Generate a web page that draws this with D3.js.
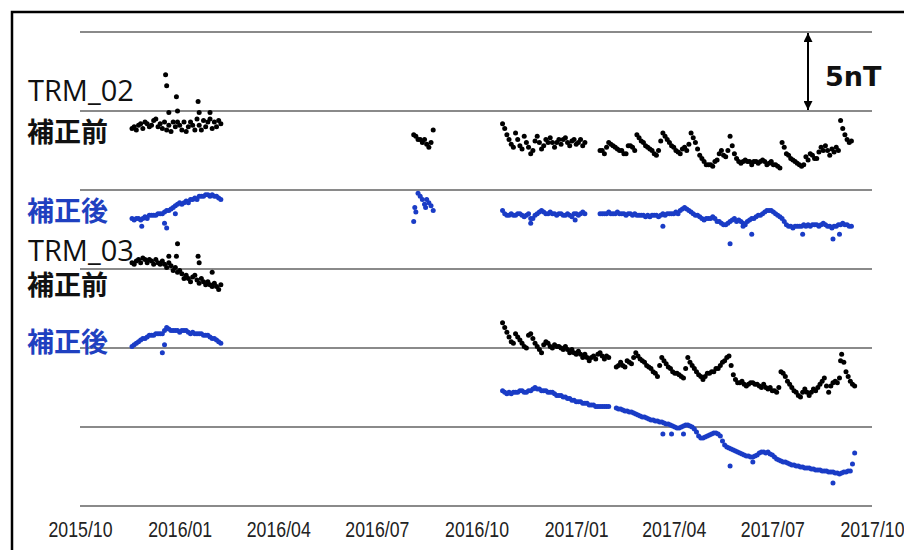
<!DOCTYPE html>
<html>
<head>
<meta charset="utf-8">
<script src="https://cdn.jsdelivr.net/npm/d3@7"></script>
<style>
  body { margin: 0; background: #fff; }
  svg { display: block; }
</style>
</head>
<body>
<svg id="chart" width="904" height="550"></svg>
<script>
// --- data (nT on a shared axis, series stacked with offsets; one value every 2 days) ---
const tickLabels = ["2015/10", "2016/01", "2016/04", "2016/07", "2016/10", "2017/01", "2017/04", "2017/07", "2017/10"];
const gridValues = [0, 5, 10, 15, 20, 25, 30];

const trm02Before = [
  { start: "2015-11-18", values: [23.9,24.0,23.8,24.1,24.2,23.9,24.3,24.2,24.0,24.1,24.4,24.5,24.0,24.2,23.9,24.3,23.8,24.1,23.7,24.3,24.0,24.3,24.1,23.8,24.3,23.7,24.0,24.3,24.1,23.8,24.5,24.1,23.8,24.4,24.0,24.3,24.5,23.9,24.3,24.0,24.4,24.2] },
  { start: "2016-08-04", values: [23.5,23.4,23.2,23.2,23.0,23.2,22.9,22.7,23.0,23.8] },
  { start: "2016-10-25", values: [24.2,23.9,23.5,23.2,22.9,22.7,23.6,23.2,22.8,22.6,23.4,23.0,22.7,22.3,22.5,23.1,23.4,23.0,22.6,22.8,23.2,23.0,23.3,23.0,22.7,23.0,23.2,22.9,23.2,23.3,23.0,22.8,23.1,23.2,22.9,23.0,23.2,22.8,23.0] },
  { start: "2017-01-23", values: [22.5,22.5,22.3,22.7,23.0,22.9,22.8,22.7,22.6,22.5,22.5,22.3,22.3,22.8,22.8,22.7,22.5,
    23.5,23.3,23.1,23.0,22.8,22.7,22.6,22.5,22.3,22.2,22.5,23.1,23.6,23.4,23.2,23.0,22.8,22.7,22.5,22.4,22.3,22.6,22.7,22.5,22.9,
    23.6,23.3,23.0,22.6,22.2,22.0,21.8,21.6,21.6,21.6,21.5,21.8,21.9,22.3,22.5,22.2,22.1,22.5,23.4,22.8,22.3,22.0,21.8,21.7,
    21.8,21.9,21.8,21.8,21.6,21.8,21.8,21.7,21.8,21.9,21.8,21.6,21.7,21.8,21.6,21.6,21.5,21.4,23.0,22.7,22.3,22.2,22.0,21.9,
    21.8,21.7,21.6,21.5,21.6,22.1,21.9,22.3,22.2,22.0,22.0,22.4,22.7,22.5,22.8,22.5,22.2,22.6,22.4,22.7,22.5,24.4,23.9,23.5,
    23.2,23.0,23.1] }
];
const trm02BeforeSpikes = [["2015-12-19",27.3],["2015-12-20",26.6],["2015-12-22",24.9],["2015-12-29",25.9],["2015-12-30",25.0],
  ["2016-01-18",25.6],["2016-01-19",24.9],["2016-01-29",24.9]];

const trm02After = [
  { start: "2015-11-18", values: [18.2,18.1,18.2,18.2,18.1,18.2,18.3,18.2,18.4,18.4,18.4,18.4,18.5,18.5,18.5,18.6,18.7,18.7,18.8,18.9,19.0,19.1,19.2,19.1,19.2,19.3,19.2,19.4,19.4,19.5,19.4,19.6,19.6,19.6,19.7,19.7,19.6,19.7,19.6,19.6,19.5,19.4] },
  { start: "2016-08-04", values: [18.0,18.6,19.8,19.6,19.4,19.1,19.4,19.2,19.0,18.7] },
  { start: "2016-10-25", values: [18.7,18.5,18.4,18.4,18.5,18.4,18.4,18.5,18.5,18.4,18.3,18.4,18.5,18.2,18.2,18.4,18.5,18.6,18.7,18.6,18.5,18.5,18.6,18.5,18.5,18.4,18.5,18.5,18.4,18.4,18.5,18.4,18.3,18.5,18.5,18.4,18.5,18.6,18.5] },
  { start: "2017-01-23", values: [18.5,18.5,18.5,18.5,18.6,18.5,18.5,18.5,18.6,18.5,18.5,18.5,18.4,18.5,18.5,18.4,18.5,
    18.4,18.4,18.4,18.4,18.3,18.4,18.3,18.4,18.4,18.4,18.3,18.4,18.5,18.4,18.5,18.5,18.5,18.5,18.6,18.5,
    18.7,18.8,18.9,18.8,18.7,18.6,18.5,18.4,18.4,18.3,18.2,
    18.1,18.2,18.2,18.2,18.3,18.2,18.0,18.0,17.9,17.8,17.8,17.9,18.0,18.1,18.2,18.0,18.1,18.0,17.9,17.8,
    18.0,18.1,18.2,18.2,18.3,18.4,18.4,18.5,18.6,18.7,18.7,18.7,18.6,18.5,18.4,18.3,
    18.2,18.0,17.8,17.7,17.7,17.6,17.7,17.7,17.7,17.7,17.8,17.7,17.8,17.7,17.8,17.8,
    17.8,17.7,17.8,17.9,17.8,17.7,17.7,17.6,17.7,17.7,17.8,17.8,17.9,17.8,17.8,17.7,17.7] }
];
const trm02AfterSpikes = [["2015-11-27",17.7],["2015-12-18",17.9],["2015-12-20",17.6],["2015-12-28",18.5],["2016-08-05",18.9],
  ["2016-08-15",18.9],["2016-11-20",17.9],["2016-12-31",18.1],["2017-03-22",17.7],["2017-05-23",16.6],["2017-06-04",17.7],
  ["2017-06-12",17.2],["2017-07-29",17.2],["2017-08-26",16.9],["2017-09-01",17.2]];

const trm03Before = [
  { start: "2015-11-18", values: [15.4,15.3,15.5,15.6,15.4,15.7,15.6,15.4,15.6,15.5,15.3,15.6,15.4,15.3,15.5,15.3,15.1,15.4,15.2,14.9,15.1,14.8,14.9,14.7,14.4,14.6,14.4,14.2,14.5,14.6,14.3,14.1,14.4,14.2,14.0,14.2,14.0,13.9,14.1,13.9,13.7,14.0] },
  { start: "2016-10-25", values: [11.6,11.3,11.0,10.7,10.4,10.3,10.9,10.7,10.5,10.3,10.1,10.0,10.8,10.9,10.6,10.3,10.1,9.9,9.7,10.2,
    10.4,10.3,10.1,10.0,10.2,10.1,10.1,10.0,9.9,10.1,9.9,9.7,9.9,9.7,9.6,9.8,9.6,9.4,9.6,9.4,9.2,9.4,9.5,9.3,9.6,9.7,9.5,9.3,9.5,9.4] },
  { start: "2017-02-07", values: [8.8,8.9,9.1,8.9,8.8,9.2,9.1,9.0,9.4,9.7,9.5,9.3,9.2,9.1,8.9,8.8,8.7,8.5,8.4,8.2,
    8.9,9.4,9.2,9.0,8.8,8.7,8.5,8.4,8.4,8.3,8.2,8.1,8.7,9.4,9.1,8.9,8.7,8.5,8.3,8.2,
    8.0,8.2,8.4,8.4,8.5,8.5,8.7,8.7,8.9,9.1,9.2,9.4,9.5,8.9,8.3,8.0,7.8,7.8,7.9,7.7,
    7.6,7.7,7.8,7.8,7.7,7.7,7.6,7.5,7.7,7.5,7.4,7.5,7.3,7.3,7.2,7.5,8.5,8.4,8.2,7.9,
    7.7,7.5,7.3,7.2,7.0,6.9,7.2,7.4,7.2,7.0,7.2,7.4,7.3,7.5,7.7,7.9,8.1,7.6,7.2,7.6,
    7.8,7.9,7.8,8.1,9.6,9.1,8.5,8.2,7.9,7.7,7.6] }
];
const trm03BeforeSpikes = [["2015-12-22",15.8],["2015-12-29",15.8],["2015-12-30",16.6],["2016-01-18",15.8],["2016-01-19",15.4],
  ["2016-01-31",14.8],["2017-09-02",9.2]];

const trm03After = [
  { start: "2015-11-18", values: [10.1,10.2,10.3,10.4,10.5,10.6,10.6,10.7,10.8,10.8,10.8,10.9,10.9,10.9,10.9,11.1,11.3,11.2,11.1,11.1,11.1,11.1,11.0,11.1,11.1,11.1,11.0,10.9,11.0,10.9,10.9,10.9,10.9,10.8,10.8,10.8,10.7,10.6,10.6,10.5,10.4,10.3] },
  { start: "2016-10-25", values: [7.3,7.2,7.1,7.2,7.1,7.2,7.2,7.2,7.3,7.3,7.2,7.2,7.3,7.3,7.4,7.5,7.4,7.4,7.3,7.3,
    7.3,7.2,7.2,7.2,7.1,7.0,7.0,7.0,6.9,6.9,6.8,6.8,6.7,6.7,6.6,6.6,6.6,6.5,6.5,6.5,6.4,6.4,6.4,6.3,6.3,6.3,6.3,6.3,6.3,6.3] },
  { start: "2017-02-07", values: [6.20,6.14,6.14,6.08,6.01,6.01,5.95,5.95,5.89,5.82, 5.76,5.70,5.63,5.63,5.57,5.51,5.44,5.44,5.38,5.38,
    5.32,5.32,5.25,5.19,5.19,5.13,5.06,5.00,4.94,4.94, 5.00,5.06,5.13,5.13,5.06,5.00,4.87,4.68,4.43,4.30,
    4.30,4.37,4.43,4.49,4.56,4.62,4.62,4.56,4.43,4.11, 3.86,3.73,3.67,3.61,3.54,3.48,3.42,3.35,3.29,3.23,
    3.16,3.16,3.10,3.10,3.16,3.23,3.35,3.42,3.42,3.35, 3.42,3.29,3.23,3.10,2.97,2.91,2.85,2.78,2.78,2.72,
    2.66,2.59,2.59,2.53,2.53,2.47,2.47,2.41,2.41,2.41, 2.34,2.34,2.28,2.28,2.28,2.22,2.22,2.22,2.15,2.15,
    2.15,2.09,2.09,2.03,2.09,2.15,2.15,2.22,2.22,2.66,3.35] }
];
const trm03AfterSpikes = [["2015-12-16",9.7],["2015-12-18",10.2],["2017-03-22",4.56],["2017-03-30",4.56],["2017-04-10",4.56],
  ["2017-05-23",2.53],["2017-06-13",2.78],["2017-08-26",1.46]];

const stepDays = 2;

// --- layout ---
const svg = d3.select("#chart");
const parse = d3.timeParse("%Y-%m-%d");
const x = d3.scaleTime().domain([parse("2015-10-01"), parse("2017-10-01")]).range([80, 872]);
const y = d3.scaleLinear().domain([0, 30]).range([506, 32]);
const BLACK = "#000", BLUE = "#1a3cc6";

// expand segments into dated points
function toPoints(segs, spikes) {
  const pts = segs.flatMap(s => s.values.map((v, i) => ({ date: d3.timeDay.offset(parse(s.start), i * stepDays), v })));
  return pts.concat(spikes.map(([d, v]) => ({ date: parse(d), v })));
}

// grid lines every 5 nT
svg.append("g")
  .selectAll("line")
  .data(gridValues)
  .join("line")
  .attr("x1", x.range()[0]).attr("x2", x.range()[1])
  .attr("y1", d => y(d)).attr("y2", d => y(d))
  .attr("stroke", "#8a8a8a")
  .attr("stroke-width", 2);

// x axis labels (no axis line, no ticks)
const xAxis = d3.axisBottom(x)
  .ticks(d3.timeMonth.every(3))
  .tickFormat((d, i) => tickLabels[i])
  .tickSize(0)
  .tickPadding(0);
const ax = svg.append("g").attr("transform", "translate(0,521)").call(xAxis);
ax.select(".domain").remove();
ax.selectAll("text")
  .attr("dy", "0.71em")
  .attr("fill", "#222")
  .attr("textLength", 64)
  .attr("lengthAdjust", "spacingAndGlyphs")
  .style("font-family", "'Liberation Sans', Arial, sans-serif")
  .style("font-size", "22px");

// dots
const series = [
  { pts: toPoints(trm02Before, trm02BeforeSpikes), color: BLACK },
  { pts: toPoints(trm02After, trm02AfterSpikes), color: BLUE },
  { pts: toPoints(trm03Before, trm03BeforeSpikes), color: BLACK },
  { pts: toPoints(trm03After, trm03AfterSpikes), color: BLUE }
];
series.forEach(s => {
  svg.append("g")
    .selectAll("circle")
    .data(s.pts)
    .join("circle")
    .attr("cx", d => x(d.date))
    .attr("cy", d => y(d.v))
    .attr("r", 2.5)
    .attr("fill", s.color);
});

// series labels
const labels = [
  { text: "TRM_02", x: 28, y: 101, cjk: false, color: "#111" },
  { text: "補正前", x: 27, y: 142, cjk: true, color: "#111" },
  { text: "補正後", x: 27, y: 221, cjk: true, color: "#1f40c0" },
  { text: "TRM_03", x: 28, y: 261, cjk: false, color: "#111" },
  { text: "補正前", x: 27, y: 295, cjk: true, color: "#111" },
  { text: "補正後", x: 27, y: 352, cjk: true, color: "#1f40c0" }
];
svg.append("g")
  .selectAll("text")
  .data(labels)
  .join("text")
  .attr("x", d => d.x)
  .attr("y", d => d.y)
  .attr("fill", d => d.color)
  .style("font-family", d => d.cjk ? "'Noto Sans CJK JP', sans-serif" : "'Open Sans', sans-serif")
  .style("font-weight", d => d.cjk ? "bold" : "normal")
  .style("font-size", d => d.cjk ? "27px" : "29px")
  .text(d => d.text);

// 5 nT scale arrow
const defs = svg.append("defs");
defs.append("marker")
  .attr("id", "head")
  .attr("viewBox", "0 0 10 10")
  .attr("refX", 10).attr("refY", 5)
  .attr("markerWidth", 4.5).attr("markerHeight", 4.5)
  .attr("orient", "auto-start-reverse")
  .append("path")
  .attr("d", "M0,0L10,5L0,10z")
  .attr("fill", "#000");
svg.append("line")
  .attr("x1", 808).attr("x2", 808)
  .attr("y1", y(30) + 1).attr("y2", y(25) - 1)
  .attr("stroke", "#000")
  .attr("stroke-width", 2)
  .attr("marker-start", "url(#head)")
  .attr("marker-end", "url(#head)");
svg.append("text")
  .attr("x", 825).attr("y", 86)
  .style("font-family", "'DejaVu Sans', sans-serif")
  .style("font-weight", "bold")
  .style("font-size", "27px")
  .attr("fill", "#111")
  .text("5nT");

// frame
svg.append("rect")
  .attr("x", 12).attr("y", 12)
  .attr("width", 910).attr("height", 560)
  .attr("fill", "none")
  .attr("stroke", "#000")
  .attr("stroke-width", 2.5);
</script>
</body>
</html>
